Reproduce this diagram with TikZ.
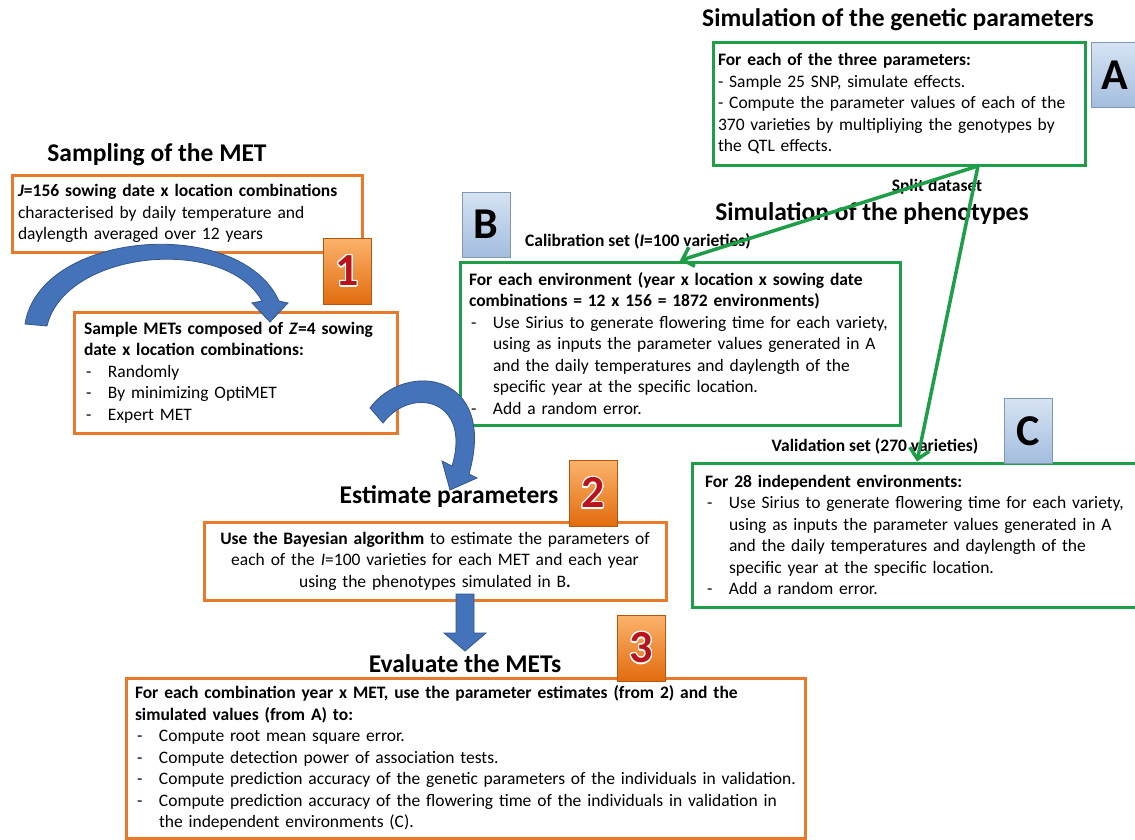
\documentclass[tikz,border=0pt]{standalone}
\usepackage{fontspec}
\setmainfont{Carlito}
\usepackage{contour}
\usetikzlibrary{arrows.meta}

\definecolor{metorange}{HTML}{E97A2C}
\definecolor{simgreen}{HTML}{1F9E4A}
\definecolor{arrowblue}{HTML}{4573B9}
\definecolor{numred}{HTML}{B8141C}
\definecolor{badgetop}{HTML}{FBB36B}
\definecolor{badgebot}{HTML}{E26B0E}
\definecolor{lettertop}{HTML}{D6E3F3}
\definecolor{letterbot}{HTML}{A3BDDE}

\newcommand{\bodysize}{\fontsize{17.5}{21.5}\selectfont}
\newcommand{\dashitem}{\makebox[24pt][l]{\hspace{2pt}-}}
\newcommand{\restitem}{\hspace*{24pt}}
\contourlength{1.3pt}

\begin{document}
\begin{tikzpicture}[x=1pt, y=-1pt,
  box/.style = {draw, line width=3pt, inner sep=0pt, align=left, font=\bodysize},
  obox/.style = {box, draw=metorange},
  gbox/.style = {box, draw=simgreen},
  title/.style = {font=\fontsize{25.5}{30}\selectfont\bfseries},
  setlabel/.style = {font=\bodysize\bfseries},
  numbadge/.style = {draw=badgebot!80!black, line width=0.6pt, top color=badgetop, bottom color=badgebot,
    minimum width=48pt, minimum height=66pt, inner sep=0pt, font=\fontsize{46}{46}\selectfont\bfseries},
  letterbadge/.style = {draw=letterbot!80!black, line width=0.6pt, top color=lettertop, bottom color=letterbot,
    minimum width=48pt, minimum height=65pt, inner sep=0pt, font=\fontsize{44}{44}\selectfont\bfseries},
  bluearrow/.style = {fill=arrowblue, draw=arrowblue!75!black, line width=0.8pt},
  greenarrow/.style = {draw=simgreen, line width=3.5pt, -{Straight Barb[length=10pt,width=20pt]}}]

  \useasboundingbox (0,0) rectangle (1135,840);
  \fill[white] (0,0) rectangle (1135,840);
  \clip (0,0) rectangle (1135,840);

  % sampling of the MET
  \node[title] (tmet) at (157,155) {Sampling of the MET};
  \node[obox, minimum width=350pt, minimum height=77pt, text width=338pt] (met) at (187,213.5)
    {\textbf{\textit{J}=156 sowing date x location combinations}\\
     characterised by daily temperature and\\
     daylength averaged over 12 years};
  \node[obox, minimum width=323pt, minimum height=121pt, text width=303pt] (sample) at (235.5,372.5)
    {\textbf{Sample METs composed of \textit{Z}=4 sowing}\\
     \textbf{date x location combinations:}\\
     \dashitem Randomly\\
     \dashitem By minimizing OptiMET\\
     \dashitem Expert MET};
  \node[numbadge] (n1) at (347,271.5) {\contour{white}{\textcolor{numred}{1}}};

  % estimation
  \node[title] (test) at (449,497) {Estimate parameters};
  \node[obox, minimum width=462pt, minimum height=78pt, text width=450pt, align=center] (estim) at (435,561)
    {\textbf{Use the Bayesian algorithm} to estimate the parameters of\\
     each of the \textit{I}=100 varieties for each MET and each year\\
     using the phenotypes simulated in B\textbf{.}};
  \node[numbadge] (n2) at (593,493.5) {\contour{white}{\textcolor{numred}{2}}};

  % evaluation
  \node[title] (teval) at (465,664) {Evaluate the METs};
  \node[obox, minimum width=679pt, minimum height=160pt, text width=661pt] (evalmet) at (465.5,758)
    {\textbf{For each combination year x MET, use the parameter estimates (from 2) and the}\\
     \textbf{simulated values (from A) to:}\\
     \dashitem Compute root mean square error.\\
     \dashitem Compute detection power of association tests.\\
     \dashitem Compute prediction accuracy of the genetic parameters of the individuals in validation.\\
     \dashitem Compute prediction accuracy of the flowering time of the individuals in validation in\\
     \restitem the independent environments (C).};
  \node[numbadge] (n3) at (641,648.5) {\contour{white}{\textcolor{numred}{3}}};

  % genetic parameters
  \node[title] (tgen) at (898,20) {Simulation of the genetic parameters};
  \node[gbox, minimum width=372pt, minimum height=122pt, text width=362pt] (genetic) at (899,104)
    {\textbf{For each of the three parameters:}\\
     - Sample 25 SNP, simulate effects.\\
     - Compute the parameter values of each of the\\
     370 varieties by multipliying the genotypes by\\
     the QTL effects.};
  \node[letterbadge] (la) at (1115,75) {A};

  % phenotypes
  \node[title] (tphen) at (872,214) {Simulation of the phenotypes};
  \node[setlabel] (lcalib) at (638,241) {Calibration set (\textit{I}=100 varieties)};
  \node[gbox, minimum width=440pt, minimum height=163pt, text width=422pt] (calib) at (680,343.5)
    {\textbf{For each environment (year x location x sowing date}\\
     \textbf{combinations = 12 x 156 = 1872 environments)}\\
     \dashitem Use Sirius to generate flowering time for each variety,\\
     \restitem using as inputs the parameter values generated in A\\
     \restitem and the daily temperatures and daylength of the\\
     \restitem specific year at the specific location.\\
     \dashitem Add a random error.};
  \node[letterbadge] (lb) at (486,224.5) {B};

  \node[setlabel] (lvalid) at (875,446) {Validation set (270 varieties)};
  \node[gbox, minimum width=458pt, minimum height=144pt, text width=432pt] (valid) at (921,535)
    {\textbf{For 28 independent environments:}\\
     \dashitem Use Sirius to generate flowering time for each variety,\\
     \restitem using as inputs the parameter values generated in A\\
     \restitem and the daily temperatures and daylength of the\\
     \restitem specific year at the specific location.\\
     \dashitem Add a random error.};
  \node[letterbadge] (lc) at (1028.5,431) {C};

  % split of the varieties
  \node[setlabel] (lsplit) at (937,187) {Split dataset};
  \coordinate (split) at (978,166);
  \draw[greenarrow] (split) -- (calib.north);
  \draw[greenarrow] (split) -- ([xshift=-4pt]valid.north);

  % blue arrows
  \draw[bluearrow] (25,324) .. controls (40,230) and (240,215) .. (279,301) -- (288,303) -- (270,322)
    -- (252,303) -- (262,301) .. controls (225,235) and (65,250) .. (47,326) -- cycle;
  \draw[bluearrow] (370,408) .. controls (405,360) and (498,372) .. (469,474) -- (477,478) -- (450,490)
    -- (442,461) -- (452,466) .. controls (472,400) and (412,385) .. (383,423) -- cycle;
  \draw[bluearrow] (456,594) -- (474,594) -- (474,633) -- (486,633) -- (465,651) -- (444,633) -- (456,633) -- cycle;
\end{tikzpicture}
\end{document}
